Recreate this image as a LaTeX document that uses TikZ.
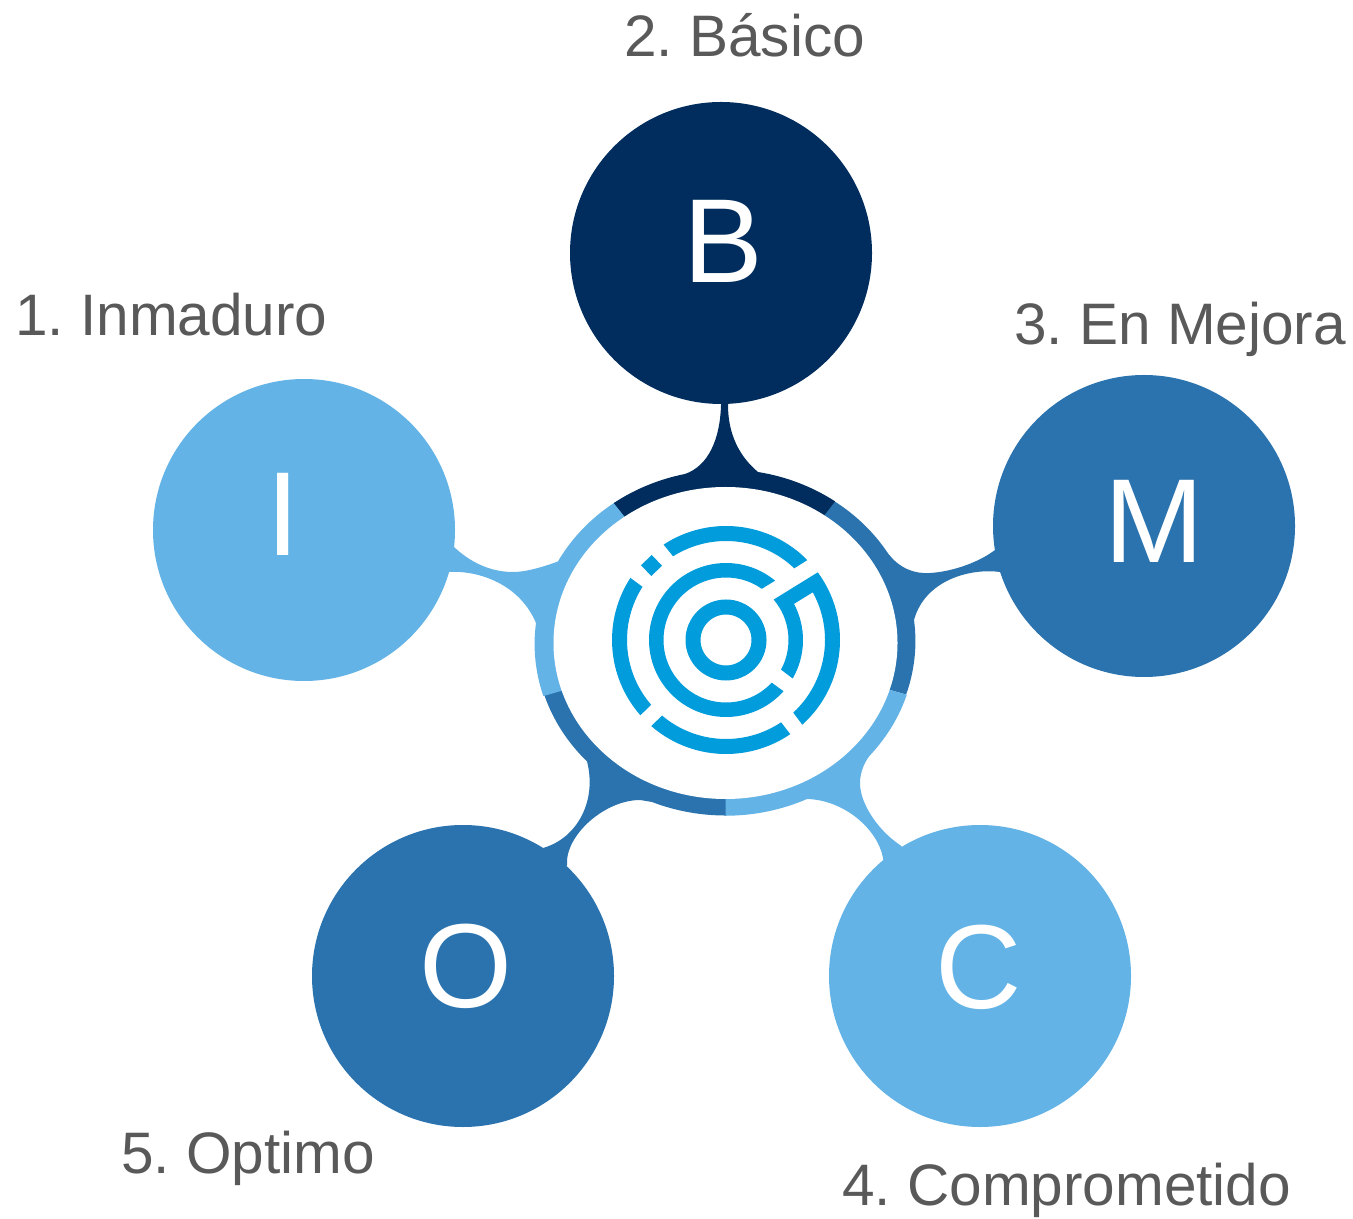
\documentclass[tikz,border=0pt]{standalone}
\usepackage{fontspec}
\setmainfont{Liberation Sans}
\usetikzlibrary{shapes.geometric}
\definecolor{navyblue}{HTML}{002D5D}
\definecolor{midblue}{HTML}{2A73AE}
\definecolor{lightblue}{HTML}{63B3E6}
\definecolor{logoblue}{HTML}{009CDB}
\definecolor{labelgrey}{HTML}{595959}
\tikzset{
  stage/.style={circle,inner sep=0,minimum size=6.04cm},
  letter/.style={anchor=base,white,font=\fontsize{68}{70}\selectfont},
  label/.style={anchor=base west,labelgrey,font=\fontsize{33.3}{38}\selectfont},
}
\newcommand{\logoarc}[6]{\fill[logoblue] (#2:#1) arc[start angle=#2,end angle=#3,radius=#1] -- (#5:#4) arc[start angle=#5,end angle=#6,radius=#4] -- cycle;}
\frenchspacing
\begin{document}
\begin{tikzpicture}
\useasboundingbox (0,0) rectangle (27.06,24.36);
\coordinate (hub) at (14.51,11.5);
% ring pieces with their arms
\fill[midblue] (hub) -- ++(55:3.8 and 3.46) arc[start angle=55,end angle=31.2,x radius=3.8,y radius=3.46]
  .. controls (18.00,12.98) and (18.30,12.88) .. (18.60,12.90)
  .. controls (18.95,12.92) and (19.50,13.06) .. (19.90,13.36) -- (20.10,13.46) -- (20.10,12.92) -- (20.00,12.92)
  .. controls (19.40,13.00) and (18.50,12.76) .. (18.28,11.96)
  arc[start angle=7,end angle=-18,x radius=3.8,y radius=3.46] -- cycle;
\fill[midblue] (hub) -- ++(197:3.8 and 3.46) arc[start angle=197,end angle=223.2,x radius=3.8,y radius=3.46]
  .. controls (11.94,8.36) and (11.56,7.60) .. (10.86,7.40) -- (10.60,7.26) -- (11.20,6.76) -- (11.34,7.06)
  .. controls (11.30,7.66) and (12.10,8.36) .. (12.80,8.36) -- (13.04,8.32)
  arc[start angle=247.2,end angle=270.4,x radius=3.8,y radius=3.46] -- cycle;
\fill[lightblue] (hub) -- ++(125.5:3.8 and 3.46) arc[start angle=125.5,end angle=151.9,x radius=3.8,y radius=3.46]
  .. controls (10.80,13.00) and (10.50,12.92) .. (10.26,12.92)
  .. controls (9.80,12.92) and (9.40,13.12) .. (9.08,13.42) -- (8.80,13.56) -- (8.70,12.92) -- (8.96,12.92)
  .. controls (9.60,12.96) and (10.40,12.66) .. (10.72,11.90)
  arc[start angle=173,end angle=197.5,x radius=3.8,y radius=3.46] -- cycle;
\fill[lightblue] (hub) -- ++(-17.4:3.8 and 3.46) arc[start angle=-17.4,end angle=-39.6,x radius=3.8,y radius=3.46]
  .. controls (17.30,9.16) and (17.20,8.92) .. (17.20,8.70)
  .. controls (17.20,8.26) and (17.60,7.72) .. (18.00,7.46) -- (18.20,7.26) -- (17.70,6.96) -- (17.66,7.20)
  .. controls (17.56,7.76) and (16.90,8.36) .. (16.14,8.38)
  arc[start angle=-64.6,end angle=-90,x radius=3.8,y radius=3.46] -- cycle;
\fill[navyblue] (hub) -- ++(126:3.8 and 3.46) arc[start angle=126,end angle=102.3,x radius=3.8,y radius=3.46]
  .. controls (14.16,15.04) and (14.40,15.56) .. (14.42,16.26) -- (14.42,16.5) -- (14.56,16.5) -- (14.56,16.26)
  .. controls (14.56,15.66) and (14.80,15.22) .. (15.16,14.92)
  arc[start angle=80,end angle=54.6,x radius=3.8,y radius=3.46] -- cycle;
\node[ellipse,fill=white,inner sep=0,minimum width=6.88cm,minimum height=6.24cm] (core) at (hub) {};
% the five stages
\node[stage,fill=lightblue] (vi) at (6.08,13.76) {};
\node[stage,fill=navyblue] (vb) at (14.42,19.30) {};
\node[stage,fill=midblue] (vm) at (22.88,13.84) {};
\node[stage,fill=lightblue] (vc) at (19.60,4.84) {};
\node[stage,fill=midblue] (vo) at (9.26,4.84) {};
\node[letter] (li) at (5.66,13.24) {I};
\node[letter] (lb) at (14.46,18.70) {B};
\node[letter] (lm) at (23.08,13.10) {M};
\node[letter] (lc) at (19.58,4.20) {C};
\node[letter] (lo) at (9.32,4.22) {O};
\node[label] (ti) at (0.18,17.64) {1. Inmaduro};
\node[label] (tb) at (12.36,23.22) {2. Básico};
\node[label] (tm) at (20.16,17.46) {3. En Mejora};
\node[label] (tc) at (16.72,0.25) {4. Comprometido};
\node[label] (to) at (2.30,0.90) {5. Optimo};
% logo
\begin{scope}[shift={(14.52,11.56)}]
\draw[logoblue,line width=0.3cm] (0,0) circle (0.66);
\logoarc{1.54}{50.4}{318.3}{1.25}{317}{55}
\logoarc{2.28}{44.5}{123.2}{1.98}{122.3}{46.4}
\logoarc{2.28}{147}{221.3}{1.98}{220.9}{147.5}
\logoarc{2.28}{229}{304.3}{1.98}{303.8}{229.8}
\fill[logoblue] (36.4:2.28) arc[start angle=36.4,end angle=-48,radius=2.28] -- (-47.2:1.98)
  arc[start angle=-47.2,end angle=28.8,radius=1.98] -- (28:1.54)
  arc[start angle=28,end angle=-30,radius=1.54] -- (-28.3:1.25)
  arc[start angle=-28.3,end angle=40.3,radius=1.25] -- cycle;
\fill[logoblue] (-1.486,1.70) -- (-1.28,1.486) -- (-1.494,1.28) -- (-1.70,1.494) -- cycle;
\end{scope}
\end{tikzpicture}
\end{document}
